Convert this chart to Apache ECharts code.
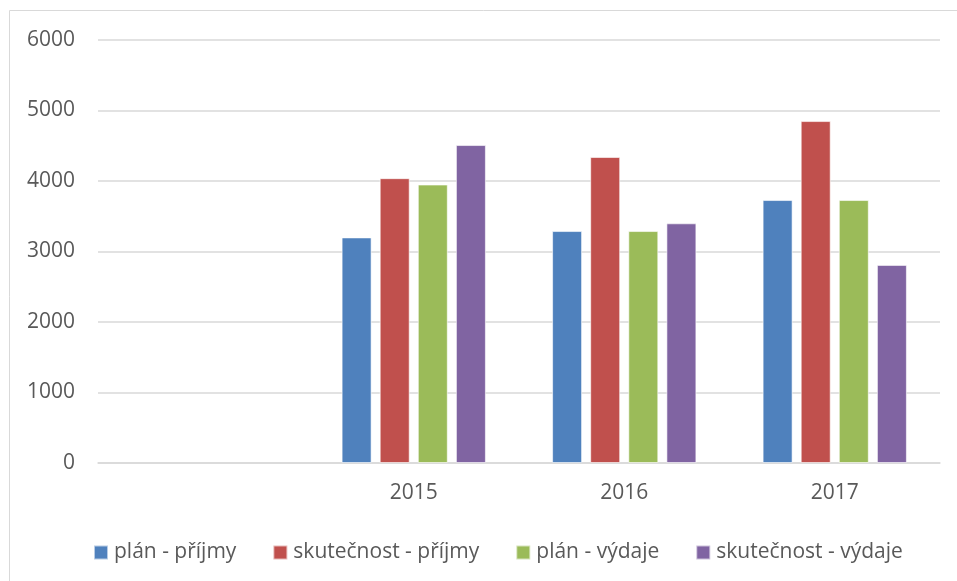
<!DOCTYPE html>
<html>
<head>
<meta charset="utf-8">
<script src="https://cdn.jsdelivr.net/npm/echarts@6/dist/echarts.min.js"></script>
<style>
  html, body { margin: 0; padding: 0; background: #fff; }
  #chart { width: 957px; height: 581px; }
</style>
</head>
<body>
<div id="chart"></div>
<script>
const years = ["", "2015", "2016", "2017"];
const planPrijmy = [null, 3200, 3290, 3730];
const skutPrijmy = [null, 4040, 4340, 4850];
const planVydaje = [null, 3950, 3290, 3730];
const skutVydaje = [null, 4510, 3400, 2810];
const seriesNames = ["plán - příjmy", "skutečnost - příjmy", "plán - výdaje", "skutečnost - výdaje"];
const colors = ["#4f81bd", "#c0504d", "#9bbb59", "#8064a2"];

const font = "'Open Sans', 'Noto Sans', sans-serif";
const chart = echarts.init(document.getElementById("chart"));

const mkSeries = (name, data) => ({
  name: name,
  type: "bar",
  data: data,
  barWidth: 30,
  barGap: "27%",
  itemStyle: { borderColor: "rgba(255,255,255,0.6)", borderWidth: 1 },
});

chart.setOption({
  animation: false,
  color: colors,
  textStyle: { fontFamily: font, color: "#595959" },
  graphic: [{
    type: "rect",
    shape: { x: 9.5, y: 10.5, width: 960, height: 600 },
    style: { fill: "none", stroke: "#d9d9d9", lineWidth: 1 },
  }],
  grid: { left: 98, right: 17, top: 40, bottom: 118 },
  legend: {
    top: 537,
    left: 88,
    itemWidth: 14,
    itemHeight: 14,
    itemGap: 36,
    icon: "rect",
    textStyle: { fontSize: 21, color: "#595959", fontFamily: font, padding: [0, 0, 0, 1] },
    data: seriesNames,
  },
  xAxis: {
    type: "category",
    data: years,
    axisLine: { lineStyle: { color: "#d9d9d9", width: 1.5 } },
    axisTick: { show: false },
    axisLabel: { fontSize: 21, color: "#595959", margin: 20 },
  },
  yAxis: {
    type: "value",
    min: 0,
    max: 6000,
    interval: 1000,
    axisLine: { show: false },
    axisTick: { show: false },
    splitLine: { lineStyle: { color: "#d9d9d9", width: 1.5 } },
    axisLabel: { fontSize: 21, color: "#595959", margin: 23, formatter: (v) => String(v) },
  },
  series: [
    mkSeries(seriesNames[0], planPrijmy),
    mkSeries(seriesNames[1], skutPrijmy),
    mkSeries(seriesNames[2], planVydaje),
    mkSeries(seriesNames[3], skutVydaje),
  ],
});
</script>
</body>
</html>
